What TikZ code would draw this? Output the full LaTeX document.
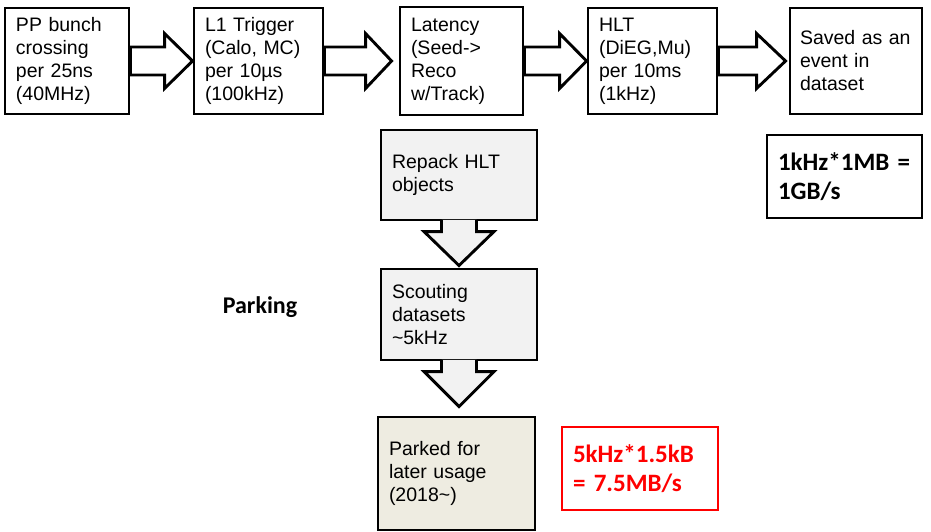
\documentclass[tikz,border=0pt]{standalone}
\usepackage{fontspec}
\setmainfont{Liberation Sans}
\newfontfamily\cbfont{Carlito}
\usetikzlibrary{calc}
\definecolor{boxgray}{HTML}{F2F2F2}
\definecolor{parkbeige}{HTML}{EEECE1}
\definecolor{alertred}{HTML}{FF0000}
\begin{document}
\begin{tikzpicture}[x=1pt,y=-1pt,line join=miter,
  box/.style={draw=black,line width=2.9pt,fill=white,rectangle,inner xsep=11pt,inner ysep=0pt,
    align=left,font=\fontsize{19.5}{23}\selectfont},
  graybox/.style={box,fill=boxgray},
  parkbox/.style={box,fill=parkbeige},
  ratebox/.style={box,font=\cbfont\bfseries\fontsize{25}{29.5}\selectfont},
  redbox/.style={ratebox,draw=alertred,text=alertred},
  harrow/.style={draw=black,line width=2.9pt,fill=white},
  varrow/.style={draw=black,line width=2.9pt,fill=boxgray},
  labeltext/.style={font=\cbfont\bfseries\fontsize{24}{28}\selectfont,inner sep=0pt}]
\useasboundingbox (0,0) rectangle (931,532);

% positions
\path
  (67,61)    coordinate (c1)
  (258.5,61) coordinate (c2)
  (461.5,61) coordinate (c3)
  (652.5,61) coordinate (c4)
  (856,61)   coordinate (c5);

% placeholders for the top row (used by the block arrows, drawn first)
\node[box,text width=102pt,minimum height=106pt,draw=none,fill=none] (b1) at (c1) {};
\node[box,text width=107pt,minimum height=106pt,draw=none,fill=none] (b2) at (c2) {};
\node[box,text width=101pt,minimum height=108pt,draw=none,fill=none] (b3) at (c3) {};
\node[box,text width=107pt,minimum height=106pt,draw=none,fill=none] (b4) at (c4) {};
\node[box,text width=112pt,inner xsep=10pt,minimum height=106pt,draw=none,fill=none] (b5) at (c5) {};

\draw[harrow] ([yshift=-14pt]b1.east) -- ($(b2.west)+(-28,14)$) -- ($(b2.west)+(-28,27.5)$)
  -- (b2.west) -- ($(b2.west)+(-28,-27.5)$) -- ($(b2.west)+(-28,-14)$) -- ([yshift=14pt]b1.east) -- cycle;
\path ($(b3.west)+(-7,0)$) coordinate (t2);
\draw[harrow] ([yshift=-14pt]b2.east) -- ($(t2)+(-26,14)$) -- ($(t2)+(-26,27.5)$)
  -- (t2) -- ($(t2)+(-26,-27.5)$) -- ($(t2)+(-26,-14)$) -- ([yshift=14pt]b2.east) -- cycle;
\draw[harrow] ([yshift=-14pt]b3.east) -- ($(b4.west)+(-27,14)$) -- ($(b4.west)+(-27,27.5)$)
  -- (b4.west) -- ($(b4.west)+(-27,-27.5)$) -- ($(b4.west)+(-27,-14)$) -- ([yshift=14pt]b3.east) -- cycle;
\path ($(b5.west)+(-3,0)$) coordinate (t4);
\draw[harrow] ([yshift=-14pt]b4.east) -- ($(t4)+(-29,14)$) -- ($(t4)+(-29,27.5)$)
  -- (t4) -- ($(t4)+(-29,-27.5)$) -- ($(t4)+(-29,-14)$) -- ([yshift=14pt]b4.east) -- cycle;

% top row boxes
\node[box,text width=102pt,minimum height=106pt] at (b1) {PP bunch\\crossing\\per 25ns\\(40MHz)};
\node[box,text width=107pt,minimum height=106pt] at (b2) {L1 Trigger\\(Calo, MC)\\per 10µs\\(100kHz)};
\node[box,text width=101pt,minimum height=108pt] at (b3) {Latency\\(Seed->\\Reco\\w/Track)};
\node[box,text width=107pt,minimum height=106pt] at (b4) {HLT\\(DiEG,Mu)\\per 10ms\\(1kHz)};
\node[box,text width=112pt,inner xsep=10pt,minimum height=106pt] at (b5) {Saved as an\\event in\\dataset};

\node[ratebox,text width=133pt,minimum height=83pt] (rate) at (844.5,176.5) {1kHz*1MB =\\1GB/s};

% vertical chain
\node[graybox,text width=134pt,minimum height=90pt] (rep) at (459,175) {Repack HLT\\objects};
\node[graybox,text width=134pt,minimum height=91pt] (sco) at (459,314.5) {Scouting\\datasets\\\textasciitilde5kHz};
\node[parkbox,text width=135pt,minimum height=113pt] (park) at (456.5,473.5) {Parked for\\later usage\\(2018\textasciitilde)};

\path ($(sco.north)+(0,-2)$) coordinate (t5);
\draw[varrow] ($(rep.south)+(-17.5,-1.5)$) -- ($(t5)+(-17.5,-34)$) -- ($(t5)+(-35,-34)$) -- (t5)
  -- ($(t5)+(35,-34)$) -- ($(t5)+(17.5,-34)$) -- ($(rep.south)+(17.5,-1.5)$);
\path ($(sco.south |- park.north)+(0,-9)$) coordinate (t6);
\draw[varrow] ($(sco.south)+(-17.5,-1.5)$) -- ($(t6)+(-17.5,-35)$) -- ($(t6)+(-35,-35)$) -- (t6)
  -- ($(t6)+(35,-35)$) -- ($(t6)+(17.5,-35)$) -- ($(sco.south)+(17.5,-1.5)$);

\node[labeltext,anchor=base] (parking) at (260,313) {Parking};

\node[redbox,text width=134pt,minimum height=83pt] (red) at (640,468.5) {5kHz*1.5kB\\= 7.5MB/s};
\end{tikzpicture}
\end{document}
